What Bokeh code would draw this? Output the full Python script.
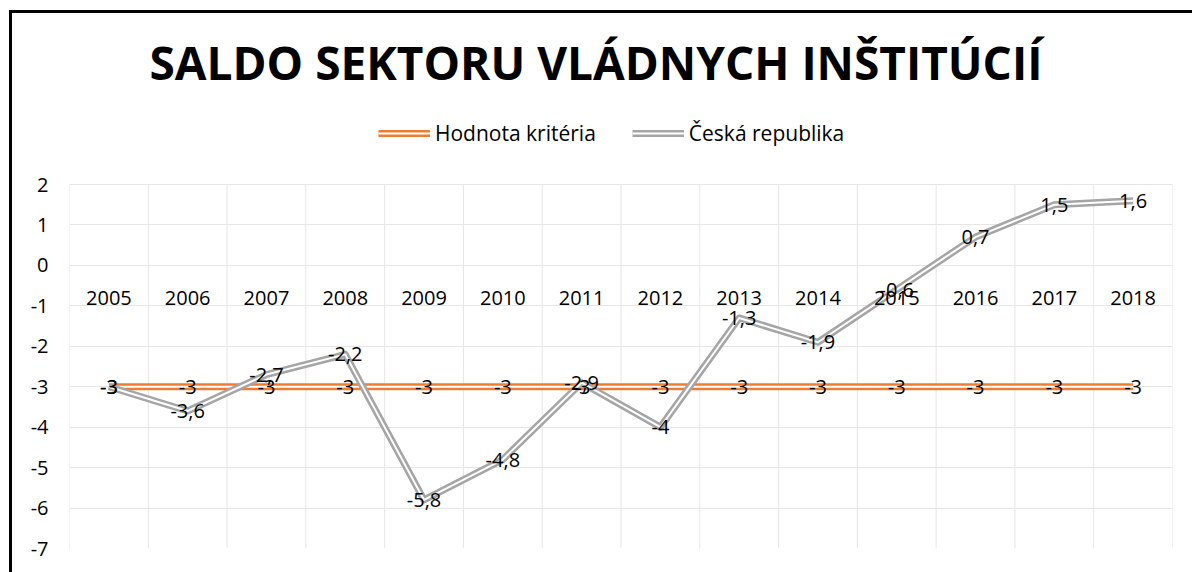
from bokeh.plotting import figure
from bokeh.models import Range1d, FixedTicker, Legend, LegendItem
from bokeh.core.properties import value
from bokeh.embed import file_html
from bokeh.resources import INLINE

years = ["2005", "2006", "2007", "2008", "2009", "2010", "2011",
         "2012", "2013", "2014", "2015", "2016", "2017", "2018"]
czech = [-3, -3.6, -2.7, -2.2, -5.8, -4.8, -2.9, -4, -1.3, -1.9, -0.6, 0.7, 1.5, 1.6]
criterion = [-3, -3, -3, -3, -3, -3, -3, -3, -3, -3, -3, -3, -3, -3]
y_ticks = [-7, -6, -5, -4, -3, -2, -1, 0, 1, 2]

ORANGE = "#ED7D31"
GREY = "#A5A5A5"
GRID = "#E6E6E6"
FONT = "Open Sans"


def fmt(v):
    return ("%g" % v).replace(".", ",")


xs = [i + 0.5 for i in range(len(years))]
bounds = list(range(len(years) + 1))

# frame: grid area 364px tall for the tick span, plus 84px above it for the legend
y_lo, y_hi = min(y_ticks), max(y_ticks)
y_top = y_hi + (y_hi - y_lo) * 84 / 364

p = figure(width=1192, height=572, output_backend="svg", toolbar_location=None,
           x_range=Range1d(0, len(years)), y_range=Range1d(y_lo, y_top),
           x_axis_location=None, y_axis_location="left",
           min_border_left=69, min_border_right=20, min_border_bottom=24, min_border_top=100)

p.outline_line_color = None
p.background_fill_color = "white"
p.border_fill_alpha = 0
p.styles = {
    "background-color": "white",
    "background-image": "linear-gradient(black, black), linear-gradient(black, black)",
    "background-size": "3px 100%, 100% 3px",
    "background-position": "9px 10px, 9px 10px",
    "background-repeat": "no-repeat",
}

# grids
p.xgrid.visible = False
p.ygrid.ticker = FixedTicker(ticks=y_ticks)
p.ygrid.grid_line_color = GRID
p.ygrid.grid_line_width = 1
p.segment(x0=bounds, y0=[y_lo] * len(bounds), x1=bounds, y1=[y_hi] * len(bounds),
          line_color=GRID, line_width=1)

# y axis
ax = p.yaxis[0]
ax.ticker = FixedTicker(ticks=y_ticks)
ax.major_label_overrides = {t: str(t) for t in y_ticks}
ax.axis_line_color = None
ax.major_tick_line_color = None
ax.minor_tick_line_color = None
ax.major_tick_out = 0
ax.major_tick_in = 0
ax.major_label_standoff = 21
ax.major_label_text_font = FONT
ax.major_label_text_font_size = "20px"
ax.major_label_text_color = "black"

# lines (double-line look)
r1 = p.line(xs, criterion, line_color=ORANGE, line_width=7, line_join="round")
r2 = p.line(xs, criterion, line_color="white", line_width=2, line_join="round")
r3 = p.line(xs, czech, line_color=GREY, line_width=7, line_join="round")
r4 = p.line(xs, czech, line_color="white", line_width=2, line_join="round")

# category labels at the zero line
p.text(xs, [0] * len(xs), text=years, y_offset=33, text_align="center",
       text_baseline="middle", text_font=value(FONT), text_font_size="20px",
       text_color="black")

# data labels
p.text(xs, criterion, text=[fmt(v) for v in criterion], text_align="center",
       text_baseline="middle", text_font=value(FONT), text_font_size="20px",
       text_color="black")
p.text(xs, czech, text=[fmt(v) for v in czech], text_align="center",
       text_baseline="middle", text_font=value(FONT), text_font_size="20px",
       text_color="black")

legend = Legend(items=[LegendItem(label="Hodnota kritéria", renderers=[r1, r2]),
                       LegendItem(label="Česká republika", renderers=[r3, r4])],
                orientation="horizontal", location=(309, 401),
                label_text_font=FONT, label_text_font_size="21px",
                label_text_color="black", glyph_width=52, glyph_height=20,
                spacing=36, label_standoff=5, border_line_color=None,
                background_fill_alpha=0, margin=0, padding=10)
p.add_layout(legend, "center")

p.title.text = "SALDO SEKTORU VLÁDNYCH INŠTITÚCIÍ"
p.title.text_font = FONT
p.title.text_font_size = "46px"
p.title.text_font_style = "bold"
p.title.align = "left"
p.title.offset = 80
p.title.standoff = 15
p.title.text_color = "black"

open("out.html", "w").write(file_html(p, INLINE))
